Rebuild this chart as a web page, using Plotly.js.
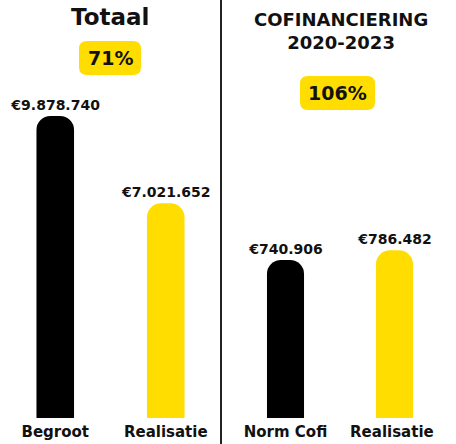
<!DOCTYPE html>
<html><head><meta charset="utf-8">
<script src="https://cdn.plot.ly/plotly-3.0.1.min.js"></script>
<style>html,body{margin:0;padding:0;background:#fff;}#chart{width:456px;height:444px;}</style>
</head><body><div id="chart"></div>
<script>
const leftCategories = ["Begroot", "Realisatie"];
const leftValues = [9878740, 7021652];
const leftLabels = ["€9.878.740", "€7.021.652"];
const rightCategories = ["Norm Cofi", "Realisatie "];
const rightValues = [740906, 786482];
const rightLabels = ["€740.906", "€786.482"];
const leftTitle = "Totaal";
const leftBadge = "71%";
const rightTitle = "COFINANCIERING<br>2020-2023";
const rightBadge = "106%";

const BLACK = "#000000", YELLOW = "#FFDD00";
const FONT = "DejaVu Sans";
const W = 456, H = 444, MB = 26, PH = H - MB;
const px = x => x / W;
const py = y => (PH - y) / PH;

const traces = [
  {type:"bar", x:leftCategories, y:leftValues, text:leftLabels, textposition:"outside",
   constraintext:"none", cliponaxis:false, marker:{color:[BLACK, YELLOW], cornerradius:14}, width:0.34,
   textfont:{family:FONT, size:14, color:"#111", weight:"bold"}, xaxis:"x", yaxis:"y", hoverinfo:"none"},
  {type:"bar", x:rightCategories, y:rightValues, text:rightLabels, textposition:"outside",
   constraintext:"none", cliponaxis:false, marker:{color:[BLACK, YELLOW], cornerradius:14}, width:0.34,
   textfont:{family:FONT, size:14, color:"#111", weight:"bold"}, xaxis:"x2", yaxis:"y2", hoverinfo:"none"}
];

function rrect(w, h, r) {
  const x0=-w/2, x1=w/2, y0=-h/2, y1=h/2;
  return `M ${x0+r} ${y0} L ${x1-r} ${y0} Q ${x1} ${y0} ${x1} ${y0+r} L ${x1} ${y1-r} Q ${x1} ${y1} ${x1-r} ${y1} L ${x0+r} ${y1} Q ${x0} ${y1} ${x0} ${y1-r} L ${x0} ${y0+r} Q ${x0} ${y0} ${x0+r} ${y0} Z`;
}
function badgeShape(cx, cy, w, h) {
  return {type:"path", xref:"paper", yref:"paper", xsizemode:"pixel", ysizemode:"pixel",
    xanchor:px(cx), yanchor:py(cy), path:rrect(w, h, 8),
    fillcolor:YELLOW, line:{width:0}, layer:"below"};
}
function note(text, cx, cy, size) {
  return {text:text, xref:"paper", yref:"paper", x:px(cx), y:py(cy), xanchor:"center", yanchor:"middle",
    showarrow:false, font:{family:FONT, size:size, color:"#111", weight:"bold"}};
}

const tickFont = {family:FONT, size:15, color:"#111", weight:"bold"};
const layout = {
  width:W, height:H, margin:{l:0, r:0, t:0, b:MB},
  paper_bgcolor:"#fff", plot_bgcolor:"#fff", showlegend:false,
  xaxis:{domain:[0, px(221)], type:"category", range:[-0.5, 1.5], showgrid:false, zeroline:false,
    showline:false, ticks:"", tickfont:tickFont, ticklabelstandoff:3, fixedrange:true},
  xaxis2:{domain:[px(231), px(449)], type:"category", range:[-0.5, 1.5], showgrid:false, zeroline:false,
    showline:false, ticks:"", tickfont:tickFont, ticklabelstandoff:3, fixedrange:true},
  yaxis:{domain:[0,1], range:[0, 9878740*PH/302], visible:false, fixedrange:true},
  yaxis2:{domain:[0,1], anchor:"x2", range:[0, 740906*PH/158], visible:false, fixedrange:true},
  shapes:[
    {type:"line", xref:"paper", yref:"paper", x0:px(221), x1:px(221), y0:py(0), y1:py(444),
     line:{color:"#222", width:2}},
    badgeShape(110, 58, 62, 34),
    badgeShape(337.5, 93, 75, 34)
  ],
  annotations:[
    note(leftTitle, 110, 17, 23),
    note(leftBadge, 110, 58, 19),
    note(rightTitle, 341, 31, 18),
    note(rightBadge, 337.5, 93, 19)
  ]
};
Plotly.newPlot("chart", traces, layout, {displayModeBar:false, staticPlot:true});
</script></body></html>
